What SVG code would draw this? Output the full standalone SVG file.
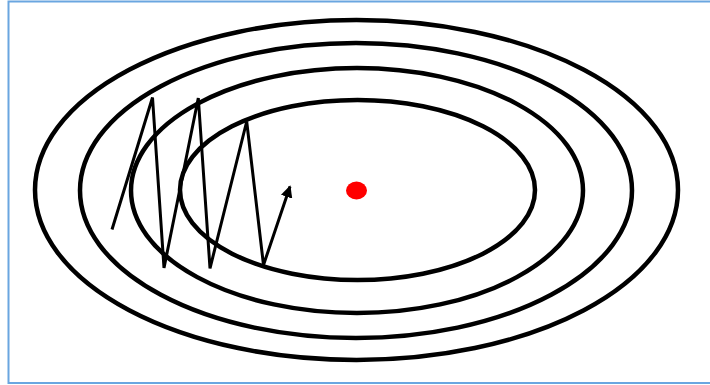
<svg xmlns="http://www.w3.org/2000/svg" width="710" height="385" viewBox="0 0 710 385">
  <style>
    .contour { fill: none; stroke: #000; stroke-width: 4.5; }
    .path { fill: none; stroke: #000; stroke-width: 3; stroke-linejoin: miter; }
    .frame { fill: none; stroke: #6aa6e0; stroke-width: 2; }
  </style>
  <defs>
    <marker id="arrow" viewBox="0 0 10 10" refX="9" refY="5" markerWidth="4" markerHeight="4" orient="auto" markerUnits="strokeWidth">
      <path d="M0,0 L10,5 L0,10 z" fill="#000"/>
    </marker>
  </defs>
  <rect x="0" y="0" width="710" height="385" fill="#fff"/>
  <polyline class="frame" points="711,1.5 8.5,1.5 8.5,383 711,383"/>
  <g id="contour-4">
    <ellipse class="contour" cx="356.5" cy="190" rx="321.5" ry="170"/>
  </g>
  <g id="contour-3">
    <ellipse class="contour" cx="356" cy="190.5" rx="276" ry="147.5"/>
  </g>
  <g id="contour-2">
    <ellipse class="contour" cx="357" cy="190.5" rx="226" ry="122.5"/>
  </g>
  <g id="contour-1">
    <ellipse class="contour" cx="357.5" cy="190" rx="177.5" ry="90"/>
  </g>
  <g id="minimum">
    <ellipse cx="356.5" cy="190.5" rx="10.5" ry="9" fill="#ff0000"/>
  </g>
  <g id="connectors">
    <polyline class="path" points="112,229.5 152.5,97.5 164,268 198.3,98 210,268.3 246.7,121.5 263.5,265 290,186.5" marker-end="url(#arrow)"/>
  </g>
</svg>
